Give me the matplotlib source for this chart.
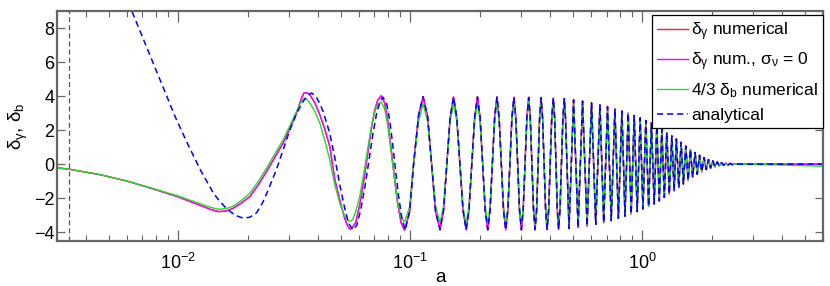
import matplotlib
matplotlib.use("Agg")
import matplotlib.pyplot as plt
from matplotlib.ticker import LogLocator, NullFormatter, MultipleLocator

plt.rcParams["font.family"] = ["Liberation Sans", "DejaVu Sans"]
plt.rcParams["mathtext.default"] = "regular"

# ---- data ------------------------------------------------------------------
# early part of the numerical curves (shared a grid)
a_num_early = [0.00301, 0.00339, 0.00460, 0.00602, 0.00755, 0.00997, 0.01123,
               0.01240, 0.01368, 0.01482, 0.01604, 0.01719, 0.01861, 0.02034,
               0.02203, 0.02400, 0.02605, 0.02829, 0.03022, 0.03230, 0.03370,
               0.03472, 0.03577, 0.03685, 0.03873, 0.04070, 0.04276, 0.04493,
               0.04721, 0.04960, 0.05212, 0.05370, 0.05502, 0.05640, 0.05811,
               0.06046, 0.06291, 0.06545, 0.06809, 0.07015, 0.07226, 0.07482,
               0.07745, 0.07977, 0.08260, 0.08551, 0.08809, 0.09120, 0.09442]
# delta_gamma numerical (red and magenta coincide)
y_gam_early = [-0.22, -0.30, -0.62, -1.00, -1.40, -1.92, -2.20,
               -2.42, -2.65, -2.79, -2.76, -2.60, -2.30, -1.90,
               -1.25, -0.43, 0.40, 1.24, 2.10, 3.00, 3.75,
               4.18, 4.20, 4.08, 3.60, 2.90, 2.05, 1.04,
               -0.90, -2.10, -3.20, -3.65, -3.83, -3.70, -3.43,
               -2.40, -1.00, 0.60, 2.20, 3.15, 3.75, 4.02,
               3.60, 2.60, 0.90, -0.90, -2.30, -3.45, -3.88]
# 4/3 delta_b numerical
y_bar_early = [-0.22, -0.30, -0.62, -1.00, -1.38, -1.87, -2.12,
               -2.33, -2.53, -2.65, -2.62, -2.48, -2.15, -1.71,
               -1.05, -0.24, 0.60, 1.43, 2.25, 3.10, 3.62,
               3.84, 3.80, 3.60, 3.10, 2.41, 1.40, 0.25,
               -1.20, -2.30, -3.05, -3.30, -3.37, -3.25, -2.80,
               -1.90, -0.60, 0.90, 2.30, 3.05, 3.50, 3.66,
               3.25, 2.30, 0.70, -0.90, -2.20, -3.15, -3.40]

# early part of the analytical curve
a_ana_early = [0.006077, 0.006301, 0.007191, 0.008341, 0.009678, 0.01087,
               0.01240, 0.01415, 0.01511, 0.01615, 0.01753, 0.01904, 0.02034,
               0.02174, 0.02291, 0.02400, 0.02518, 0.02649, 0.02820, 0.03022,
               0.03239, 0.03448, 0.03612, 0.03748, 0.03912, 0.04070, 0.04204,
               0.04361, 0.04493, 0.04721, 0.04960, 0.05212, 0.05421, 0.05657,
               0.05869, 0.06106, 0.06353, 0.06610, 0.06876, 0.07155, 0.07407,
               0.07616, 0.07898, 0.08136, 0.08383, 0.08636, 0.08897, 0.09167,
               0.09488]
y_ana_early = [9.50, 9.00, 7.10, 4.95, 2.80, 1.30,
               -0.30, -1.70, -2.20, -2.62, -3.00, -3.18, -3.12,
               -2.85, -2.35, -1.75, -1.05, -0.30, 0.80, 2.00,
               3.00, 3.68, 4.05, 4.18, 4.00, 3.55, 3.10,
               2.40, 1.80, 0.40, -1.20, -2.60, -3.50, -3.86,
               -3.60, -2.70, -1.40, 0.10, 1.70, 3.00, 3.70,
               3.94, 3.55, 2.60, 1.20, -0.40, -1.90, -3.10,
               -3.88]

# dense oscillation part (shared a positions for all curves)
a_tail = [0.09920, 0.1032, 0.1085, 0.1134, 0.1186, 0.1234, 0.1284, 0.1342,
          0.1390, 0.1435, 0.1482, 0.1534, 0.1585, 0.1634, 0.1685, 0.1739,
          0.1788, 0.1892, 0.1945, 0.1996, 0.2100, 0.2154, 0.2204, 0.2307,
          0.2360, 0.2411, 0.2519, 0.2575, 0.2630, 0.2738, 0.2793, 0.2846,
          0.2952, 0.3008, 0.3062, 0.3176, 0.3233, 0.3285, 0.3393, 0.3445,
          0.3499, 0.3604, 0.3656, 0.3712, 0.3825, 0.3880, 0.3943, 0.4064,
          0.4129, 0.4183, 0.4296, 0.4351, 0.4412, 0.4541, 0.4605, 0.4660,
          0.4825, 0.5048, 0.5279, 0.5520, 0.5772, 0.6035, 0.6290, 0.6558,
          0.6809, 0.7070, 0.7334, 0.7607, 0.7874, 0.8157, 0.8408, 0.8679,
          0.8941, 0.9211, 0.9489, 0.9775, 1.005, 1.034, 1.063, 1.093,
          1.123, 1.153, 1.182, 1.212, 1.242, 1.273, 1.305, 1.338,
          1.369, 1.400, 1.434, 1.467, 1.501, 1.537, 1.573, 1.609,
          1.646, 1.686, 1.722, 1.762, 1.801, 1.843, 1.883, 1.926,
          1.967, 2.010, 2.054, 2.100, 2.144, 2.191, 2.237, 2.286,
          2.337, 2.388, 2.438, 2.492, 2.606, 3.177, 3.873, 4.721,
          6.0]
y_gam_tail = [-2.80, 0.00, 2.90, 3.96, 2.80, 0.00, -2.80, -3.85,
              -2.70, 0.00, 2.70, 3.95, 2.70, 0.00, -2.70, -3.86,
              -2.70, 2.77, 3.95, 2.77, -2.70, -3.86, -2.70, 2.76,
              3.94, 2.76, -2.70, -3.86, -2.70, 2.75, 3.93, 2.75,
              -2.70, -3.86, -2.70, 2.74, 3.92, 2.74, -2.70, -3.85,
              -2.70, 2.73, 3.90, 2.73, -2.69, -3.84, -2.69, 2.72,
              3.88, 2.72, -2.67, -3.82, -2.67, 2.70, 3.85, 2.70,
              -3.78, 3.78, -3.72, 3.70, -3.64, 3.60, -3.54, 3.50,
              -3.44, 3.38, -3.32, 3.25, -3.18, 3.12, -3.06, 3.00,
              -2.93, 2.86, -2.79, 2.72, -2.64, 2.56, -2.49, 2.42,
              -2.34, 2.25, -2.16, 2.06, -1.96, 1.86, -1.76, 1.66,
              -1.57, 1.48, -1.38, 1.28, -1.17, 1.06, -0.96, 0.86,
              -0.77, 0.68, -0.60, 0.52, -0.45, 0.38, -0.32, 0.27,
              -0.23, 0.19, -0.16, 0.13, -0.11, 0.09, -0.07, 0.06,
              -0.05, 0.04, -0.03, 0.02, 0.00, 0.00, 0.00, 0.00,
              0.00]
y_bar_tail = [-2.50, 0.00, 2.50, 3.55, 2.50, 0.00, -2.45, -3.45,
              -2.45, 0.00, 2.50, 3.55, 2.50, 0.00, -2.50, -3.50,
              -2.45, 2.50, 3.58, 2.50, -2.46, -3.52, -2.46, 2.52,
              3.60, 2.52, -2.49, -3.55, -2.49, 2.53, 3.62, 2.53,
              -2.51, -3.58, -2.51, 2.56, 3.65, 2.56, -2.52, -3.60,
              -2.52, 2.58, 3.68, 2.58, -2.54, -3.63, -2.54, 2.59,
              3.70, 2.59, -2.56, -3.66, -2.56, 2.60, 3.72, 2.60,
              -3.66, 3.68, -3.62, 3.62, -3.56, 3.54, -3.48, 3.45,
              -3.40, 3.34, -3.28, 3.22, -3.15, 3.10, -3.03, 2.98,
              -2.90, 2.84, -2.77, 2.70, -2.62, 2.54, -2.47, 2.40,
              -2.32, 2.23, -2.14, 2.04, -1.94, 1.84, -1.74, 1.64,
              -1.55, 1.46, -1.36, 1.26, -1.15, 1.04, -0.94, 0.84,
              -0.76, 0.67, -0.60, 0.51, -0.45, 0.37, -0.32, 0.26,
              -0.23, 0.18, -0.16, 0.12, -0.11, 0.08, -0.08, 0.05,
              -0.06, 0.03, -0.04, 0.01, -0.02, -0.03, -0.05, -0.08,
              -0.12]

a_start = 0.00339   # vertical marker
labels = [r"$\delta_\gamma$ numerical",
          r"$\delta_\gamma$ num., $\sigma_\nu$ = 0",
          r"4/3 $\delta_b$ numerical",
          "analytical"]

# ---- plot ------------------------------------------------------------------
fig = plt.figure(figsize=(8.3, 2.86), dpi=100)
ax = fig.add_axes([0.0687, 0.1584, 0.9229, 0.8031])

a_num = a_num_early + a_tail
y_gam = y_gam_early + y_gam_tail
kw = dict(lw=1.0, solid_joinstyle="round")
ax.plot(a_num, y_gam, color="#ff2020", label=labels[0], **kw)
ax.plot(a_num, y_gam, color="#ff00ff", label=labels[1], **kw)
ax.plot(a_num, y_bar_early + y_bar_tail, color="#22dd22", label=labels[2], **kw)
ax.plot(a_ana_early + a_tail, y_ana_early + y_gam_tail, color="#0000ff",
        lw=1.1, ls=(0, (4, 2.6)), label=labels[3])
ax.axvline(a_start, color="#555555", lw=0.9, ls=(0, (4, 2.5)))

ax.set_xscale("log")
ax.set_xlim(0.003, 6.0)
ax.set_ylim(-4.5, 9.0)
ax.yaxis.set_major_locator(MultipleLocator(2))
ax.xaxis.set_major_locator(LogLocator(base=10))
ax.xaxis.set_minor_locator(LogLocator(base=10, subs=range(2, 10)))
ax.xaxis.set_minor_formatter(NullFormatter())

for s in ax.spines.values():
    s.set_color("#666666")
    s.set_linewidth(1.6)
ax.tick_params(which="both", direction="in", top=True, right=True,
               color="#666666", labelsize=13)
ax.tick_params(which="major", length=8, width=0.9)
ax.tick_params(which="minor", length=4.5, width=0.8)
ax.tick_params(axis="y", which="major", length=6, pad=2)
ax.tick_params(axis="x", which="major", pad=9)

ax.set_xlabel("a", fontsize=13.5)
ax.xaxis.set_label_coords(0.5, -0.178)
ax.xaxis.label.set_va("baseline")
ax.set_ylabel(r"$\delta_\gamma$, $\delta_b$", fontsize=13.5, labelpad=3)

leg = ax.legend(loc="upper right", bbox_to_anchor=(1.0, 0.983),
                borderaxespad=0, fontsize=12.5, handlelength=1.8,
                handletextpad=0.15, labelspacing=0.45, borderpad=0.3,
                fancybox=False, framealpha=1)
leg.get_frame().set_edgecolor("black")
leg.get_frame().set_linewidth(0.9)

fig.savefig("out.png", dpi=100)
